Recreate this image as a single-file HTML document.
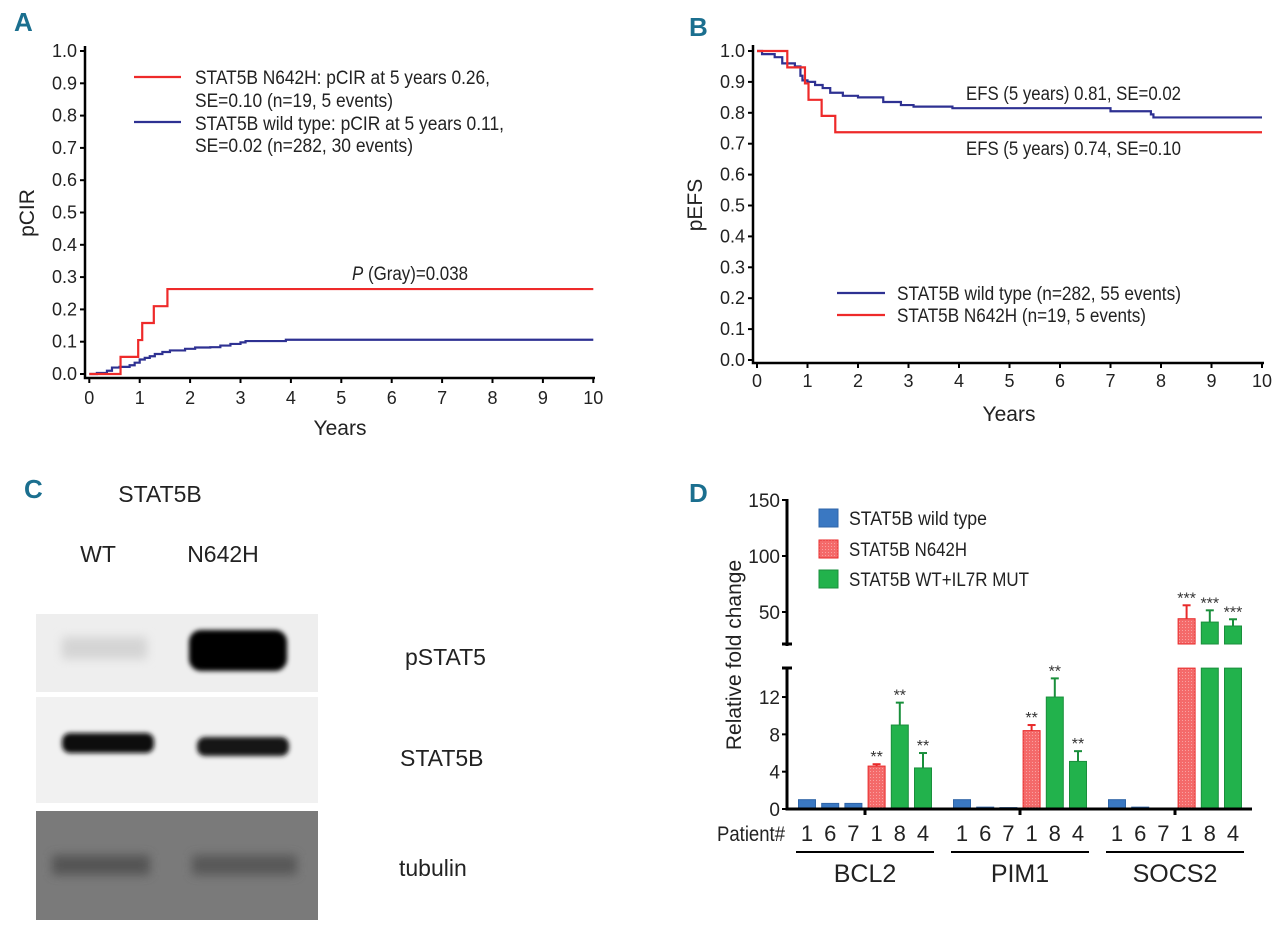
<!DOCTYPE html>
<html><head><meta charset="utf-8"><style>
html,body{margin:0;padding:0;background:#fff;}
svg{display:block;font-family:"Liberation Sans Narrow","Liberation Sans",sans-serif;}
</style></head><body>
<svg id="fig" width="1280" height="928" viewBox="0 0 1280 928" xmlns="http://www.w3.org/2000/svg">
<defs>
<filter id="blur2" x="-20%" y="-50%" width="140%" height="200%"><feGaussianBlur stdDeviation="2.5"/></filter>
<filter id="blur5" x="-20%" y="-80%" width="140%" height="260%"><feGaussianBlur stdDeviation="5"/></filter>
<pattern id="redpat" width="3" height="3" patternUnits="userSpaceOnUse"><rect width="3" height="3" fill="#f46a6a"/><rect width="1" height="1" fill="#f9a0a0"/></pattern>
</defs>
<g id="pA"></g>
<g id="pB"></g>
<g id="pC"></g>
<g id="pD"></g>
</svg>
<script>
// ---------- Panel A data ----------
const aRedTimes = [0, 0.62, 0.97, 1.05, 1.28, 1.55];
const aRedValues = [0, 0.053, 0.105, 0.158, 0.21, 0.263];
const aBlueTimes = [0,0.15,0.35,0.45,0.6,0.8,0.9,1.0,1.1,1.2,1.3,1.45,1.6,1.9,2.1,2.4,2.6,2.8,3.0,3.1,3.9];
const aBlueValues = [0,0.003,0.01,0.02,0.022,0.027,0.035,0.045,0.05,0.055,0.062,0.068,0.073,0.078,0.082,0.083,0.088,0.093,0.098,0.102,0.106];
const aYTicks = ["0.0","0.1","0.2","0.3","0.4","0.5","0.6","0.7","0.8","0.9","1.0"];
const xTickLabels = ["0","1","2","3","4","5","6","7","8","9","10"];
// ---------- Panel B data ----------
const bRedTimes = [0, 0.6, 0.95, 1.02, 1.28, 1.55];
const bRedValues = [1.0, 0.947, 0.895, 0.842, 0.79, 0.737];
const bBlueTimes = [0,0.1,0.35,0.5,0.75,0.86,0.9,1.0,1.15,1.3,1.45,1.7,2.0,2.5,2.85,3.1,3.87,7.0,7.8,7.85];
const bBlueValues = [1.0,0.99,0.98,0.96,0.95,0.92,0.905,0.9,0.89,0.88,0.865,0.855,0.85,0.835,0.825,0.82,0.815,0.805,0.795,0.785];
const bYTicks = ["0.0","0.1","0.2","0.3","0.4","0.5","0.6","0.7","0.8","0.9","1.0"];
// ---------- Panel D data ----------
const dGenes = ["BCL2","PIM1","SOCS2"];
const dPatients = ["1","6","7","1","8","4"];
const dSeries = ["wt","wt","wt","n642h","il7r","il7r"];
const dBCL2 = [1.0, 0.6, 0.6, 4.6, 9.0, 4.4];
const dPIM1 = [1.0, 0.2, 0.15, 8.4, 12.0, 5.1];
const dSOCS2 = [1.0, 0.2, 0, 44, 41, 37.5];
const dErrBCL2 = [0, 0, 0, 0.2, 2.4, 1.6];
const dErrPIM1 = [0, 0, 0, 0.6, 2.0, 1.1];
const dErrSOCS2 = [0, 0, 0, 12, 10.5, 6];
const dStarsBCL2 = ["","","","**","**","**"];
const dStarsPIM1 = ["","","","**","**","**"];
const dStarsSOCS2 = ["","","","***","***","***"];
const dLowTicks = [0,4,8,12];
const dHighTicks = [50,100,150];

const NS="http://www.w3.org/2000/svg";
function mk(parent, tag, attrs, text){
  const e=document.createElementNS(NS,tag);
  for(const k in attrs) e.setAttribute(k, attrs[k]);
  if(text!==undefined) e.textContent=text;
  parent.appendChild(e); return e;
}
function stepPath(xs, ys, xf, yf, tEnd){
  let d="M"+xf(xs[0])+" "+yf(ys[0]);
  for(let i=1;i<xs.length;i++){ d+=" H"+xf(xs[i])+" V"+yf(ys[i]); }
  d+=" H"+xf(tEnd); return d;
}
const TEAL="#1b6f8f", RED="#ee2a2a", BLUE="#2e3192";

// ================= PANEL A =================
(function(){
  const g=document.getElementById('pA');
  const xA=t=>89.3+t*50.4, yA=v=>374-v*323;
  let t=mk(g,'text',{x:14,y:31,'font-size':26,'font-weight':'bold',fill:TEAL},'A');
   
  let ax=mk(g,'path',{d:"M85 46 V378 H595",stroke:'#000','stroke-width':2.5,fill:'none'});
   
  aYTicks.forEach((lab,i)=>{
    const v=i/10, y=yA(v);
    mk(g,'line',{x1:80,x2:85,y1:y,y2:y,stroke:'#000','stroke-width':2});
    const tt=mk(g,'text',{x:77,y:y+6,'font-size':18,'text-anchor':'end',fill:'#222'},lab);
     
  });
  xTickLabels.forEach((lab,i)=>{
    const x=xA(i);
    mk(g,'line',{x1:x,x2:x,y1:378,y2:383,stroke:'#000','stroke-width':2});
    const tt=mk(g,'text',{x:x,y:404,'font-size':18,'text-anchor':'middle',fill:'#222'},lab);
     
  });
  t=mk(g,'text',{x:340,y:435,'font-size':21,'text-anchor':'middle',fill:'#222'},'Years');
   
  t=mk(g,'text',{x:0,y:0,'font-size':21,'text-anchor':'middle',fill:'#222',transform:'translate(34,213) rotate(-90)'},'pCIR');
   
  let p=mk(g,'path',{d:stepPath(aBlueTimes,aBlueValues,xA,yA,10),stroke:BLUE,'stroke-width':2.2,fill:'none'});
   
  p=mk(g,'path',{d:stepPath(aRedTimes,aRedValues,xA,yA,10),stroke:RED,'stroke-width':2.2,fill:'none'});
   
  mk(g,'line',{x1:134,x2:181,y1:77,y2:77,stroke:RED,'stroke-width':2.2});
  mk(g,'line',{x1:134,x2:181,y1:122,y2:122,stroke:BLUE,'stroke-width':2.2});
  const leg=[["STAT5B N642H: pCIR at 5 years 0.26,",84,295],["SE=0.10 (n=19, 5 events)",107,198],["STAT5B wild type: pCIR at 5 years 0.11,",130,309],["SE=0.02 (n=282, 30 events)",152,218]];
  leg.forEach(l=>{
    const tt=mk(g,'text',{x:195,y:l[1],'font-size':19,fill:'#222',textLength:l[2],lengthAdjust:'spacingAndGlyphs'},l[0]);
     
  });
  t=mk(g,'text',{x:352,y:280,'font-size':19,fill:'#222',textLength:116,lengthAdjust:'spacingAndGlyphs'});
   
  mk(t,'tspan',{'font-style':'italic'},'P');
  mk(t,'tspan',{},' (Gray)=0.038');
})();

// ================= PANEL B =================
(function(){
  const g=document.getElementById('pB');
  const xB=t=>757+t*50.5, yB=v=>360-v*309;
  let t=mk(g,'text',{x:689,y:36,'font-size':26,'font-weight':'bold',fill:TEAL},'B');
   
  let ax=mk(g,'path',{d:"M753 45 V363 H1264",stroke:'#000','stroke-width':2.5,fill:'none'});
   
  bYTicks.forEach((lab,i)=>{
    const y=yB(i/10);
    mk(g,'line',{x1:748,x2:753,y1:y,y2:y,stroke:'#000','stroke-width':2});
    const tt=mk(g,'text',{x:745,y:y+6,'font-size':18,'text-anchor':'end',fill:'#222'},lab);
     
  });
  xTickLabels.forEach((lab,i)=>{
    const x=xB(i);
    mk(g,'line',{x1:x,x2:x,y1:363,y2:368,stroke:'#000','stroke-width':2});
    const tt=mk(g,'text',{x:x,y:387,'font-size':18,'text-anchor':'middle',fill:'#222'},lab);
     
  });
  t=mk(g,'text',{x:1009,y:421,'font-size':21,'text-anchor':'middle',fill:'#222'},'Years');
   
  t=mk(g,'text',{x:0,y:0,'font-size':21,'text-anchor':'middle',fill:'#222',transform:'translate(702,205) rotate(-90)'},'pEFS');
   
  let p=mk(g,'path',{d:stepPath(bBlueTimes,bBlueValues,xB,yB,10),stroke:BLUE,'stroke-width':2.2,fill:'none'});
   
  p=mk(g,'path',{d:stepPath(bRedTimes,bRedValues,xB,yB,10),stroke:RED,'stroke-width':2.2,fill:'none'});
   
  t=mk(g,'text',{x:966,y:100,'font-size':19,fill:'#222',textLength:215,lengthAdjust:'spacingAndGlyphs'},'EFS (5 years) 0.81, SE=0.02');
   
  t=mk(g,'text',{x:966,y:155,'font-size':19,fill:'#222',textLength:215,lengthAdjust:'spacingAndGlyphs'},'EFS (5 years) 0.74, SE=0.10');
   
  mk(g,'line',{x1:837,x2:885,y1:293,y2:293,stroke:BLUE,'stroke-width':2.2});
  mk(g,'line',{x1:837,x2:885,y1:315,y2:315,stroke:RED,'stroke-width':2.2});
  t=mk(g,'text',{x:897,y:300,'font-size':19,fill:'#222',textLength:284,lengthAdjust:'spacingAndGlyphs'},'STAT5B wild type (n=282, 55 events)');
   
  t=mk(g,'text',{x:897,y:322,'font-size':19,fill:'#222',textLength:249,lengthAdjust:'spacingAndGlyphs'},'STAT5B N642H (n=19, 5 events)');
   
})();

// ================= PANEL C =================
(function(){
  const g=document.getElementById('pC');
  let t=mk(g,'text',{x:24,y:498,'font-size':26,'font-weight':'bold',fill:TEAL},'C');
   
  t=mk(g,'text',{x:160,y:502,'font-size':23,'text-anchor':'middle',fill:'#222'},'STAT5B');
   
  t=mk(g,'text',{x:98,y:562,'font-size':23,'text-anchor':'middle',fill:'#222'},'WT');
   
  t=mk(g,'text',{x:223,y:562,'font-size':23,'text-anchor':'middle',fill:'#222'},'N642H');
   
  let r=mk(g,'rect',{x:36,y:614,width:282,height:78,fill:'#eeeeee'});
   
  mk(g,'rect',{x:62,y:637,width:85,height:22,fill:'#d4d4d4',filter:'url(#blur5)'});
  mk(g,'rect',{x:189,y:630,width:98,height:41,rx:12,fill:'#050505',filter:'url(#blur2)'});
  r=mk(g,'rect',{x:36,y:697,width:282,height:106,fill:'#f1f1f1'});
   
  mk(g,'rect',{x:62,y:733,width:92,height:20,rx:8,fill:'#111',filter:'url(#blur2)'});
  mk(g,'rect',{x:197,y:737,width:92,height:19,rx:8,fill:'#151515',filter:'url(#blur2)'});
  r=mk(g,'rect',{x:36,y:811,width:282,height:109,fill:'#7a7a7a'});
   
  mk(g,'rect',{x:52,y:855,width:98,height:20,fill:'#555',filter:'url(#blur5)'});
  mk(g,'rect',{x:192,y:855,width:105,height:20,fill:'#585858',filter:'url(#blur5)'});
  const labs=[["pSTAT5",405,665],["STAT5B",400,766],["tubulin",399,876]];
  labs.forEach(l=>{
    const tt=mk(g,'text',{x:l[1],y:l[2],'font-size':23,fill:'#222'},l[0]);
     
  });
})();

// ================= PANEL D =================
(function(){
  const g=document.getElementById('pD');
  const y0=809, lowScale=9.33, lowTop=668;
  const yLow=v=>y0-Math.min(v,15.1)*lowScale;
  const highBase=644, yHigh=v=>612-(v-50)*1.12;
  const groupStart=[807,962,1117], step=23.2, bw=17;
  const colors={wt:'#3a78c2',n642h:'url(#redpat)',il7r:'#22b24c'};
  const strokes={wt:'#2f65a8',n642h:'#e82a2a',il7r:'#1a8f3c'};
  const vals=[dBCL2,dPIM1,dSOCS2], errs=[dErrBCL2,dErrPIM1,dErrSOCS2], stars=[dStarsBCL2,dStarsPIM1,dStarsSOCS2];
  let t=mk(g,'text',{x:689,y:502,'font-size':26,'font-weight':'bold',fill:TEAL},'D');
   
  let a=mk(g,'line',{x1:787,x2:787,y1:lowTop,y2:y0+1.5,stroke:'#000','stroke-width':3});
   
  a=mk(g,'line',{x1:787,x2:787,y1:499,y2:highBase+2,stroke:'#000','stroke-width':3});
   
  mk(g,'line',{x1:782,x2:792,y1:lowTop,y2:lowTop,stroke:'#000','stroke-width':3});
  mk(g,'line',{x1:782,x2:792,y1:highBase,y2:highBase,stroke:'#000','stroke-width':3});
  dLowTicks.forEach(v=>{
    const y=yLow(v);
    mk(g,'line',{x1:782,x2:787,y1:y,y2:y,stroke:'#000','stroke-width':2});
    const tt=mk(g,'text',{x:780,y:y+7,'font-size':19,'text-anchor':'end',fill:'#222'},String(v));
     
  });
  dHighTicks.forEach(v=>{
    const y=yHigh(v);
    mk(g,'line',{x1:782,x2:787,y1:y,y2:y,stroke:'#000','stroke-width':2});
    const tt=mk(g,'text',{x:780,y:y+7,'font-size':19,'text-anchor':'end',fill:'#222'},String(v));
     
  });
  t=mk(g,'text',{x:0,y:0,'font-size':21,'text-anchor':'middle',fill:'#222',transform:'translate(741,655) rotate(-90)'},'Relative fold change');
   
  dGenes.forEach((gene,gi)=>{
    dPatients.forEach((pt,i)=>{
      const cx=groupStart[gi]+i*step, v=vals[gi][i], s=dSeries[i];
      const x=cx-bw/2;
      if(v>0){
        const top=yLow(v);
        const b=mk(g,'rect',{x:x,y:top,width:bw,height:y0-top,fill:colors[s],stroke:strokes[s],'stroke-width':1});
         
      }
      let errTop;
      if(v>15.1){
        const ht=yHigh(v);
        const b2=mk(g,'rect',{x:x,y:ht,width:bw,height:highBase-ht,fill:colors[s],stroke:strokes[s],'stroke-width':1});
         
        errTop=yHigh(v+errs[gi][i]);
        if(errs[gi][i]>0){
          mk(g,'line',{x1:cx,x2:cx,y1:ht,y2:errTop,stroke:strokes[s],'stroke-width':2});
          mk(g,'line',{x1:cx-4,x2:cx+4,y1:errTop,y2:errTop,stroke:strokes[s],'stroke-width':2});
        }
      } else if(errs[gi][i]>0){
        errTop=yLow(v+errs[gi][i]);
        mk(g,'line',{x1:cx,x2:cx,y1:yLow(v),y2:errTop,stroke:strokes[s],'stroke-width':2});
        mk(g,'line',{x1:cx-4,x2:cx+4,y1:errTop,y2:errTop,stroke:strokes[s],'stroke-width':2});
      }
      if(stars[gi][i]){
        const st=mk(g,'text',{x:cx,y:errTop-2,'font-size':16,'text-anchor':'middle',fill:'#333'},stars[gi][i]);
         
      }
      const pl=mk(g,'text',{x:cx,y:841,'font-size':22,'text-anchor':'middle',fill:'#222'},pt);
       
    });
    const x1=groupStart[gi]-11, x2=groupStart[gi]+5*step+11;
    const ul=mk(g,'line',{x1:x1,x2:x2,y1:852,y2:852,stroke:'#000','stroke-width':2});
     
    const gl=mk(g,'text',{x:(x1+x2)/2,y:882,'font-size':25,'text-anchor':'middle',fill:'#222'},gene);
     
    const tx=groupStart[gi]+2.5*step; mk(g,'line',{x1:tx,x2:tx,y1:y0,y2:y0+6,stroke:'#000','stroke-width':3});
  });
  a=mk(g,'line',{x1:786,x2:1252,y1:y0,y2:y0,stroke:'#000','stroke-width':3});
   
  t=mk(g,'text',{x:717,y:841,'font-size':21,fill:'#222',textLength:68,lengthAdjust:'spacingAndGlyphs'},'Patient#');
   
  const leg=[["STAT5B wild type","wt",518,138],["STAT5B N642H","n642h",549,118],["STAT5B WT+IL7R MUT","il7r",579,180]];
  leg.forEach(l=>{
    const sw=mk(g,'rect',{x:819,y:l[2]-9,width:19,height:18,fill:colors[l[1]],stroke:strokes[l[1]],'stroke-width':1});
     
    const tt=mk(g,'text',{x:849,y:l[2]+7,'font-size':19,fill:'#222',textLength:l[3],lengthAdjust:'spacingAndGlyphs'},l[0]);
     
  });
})();
</script>
</body></html>
